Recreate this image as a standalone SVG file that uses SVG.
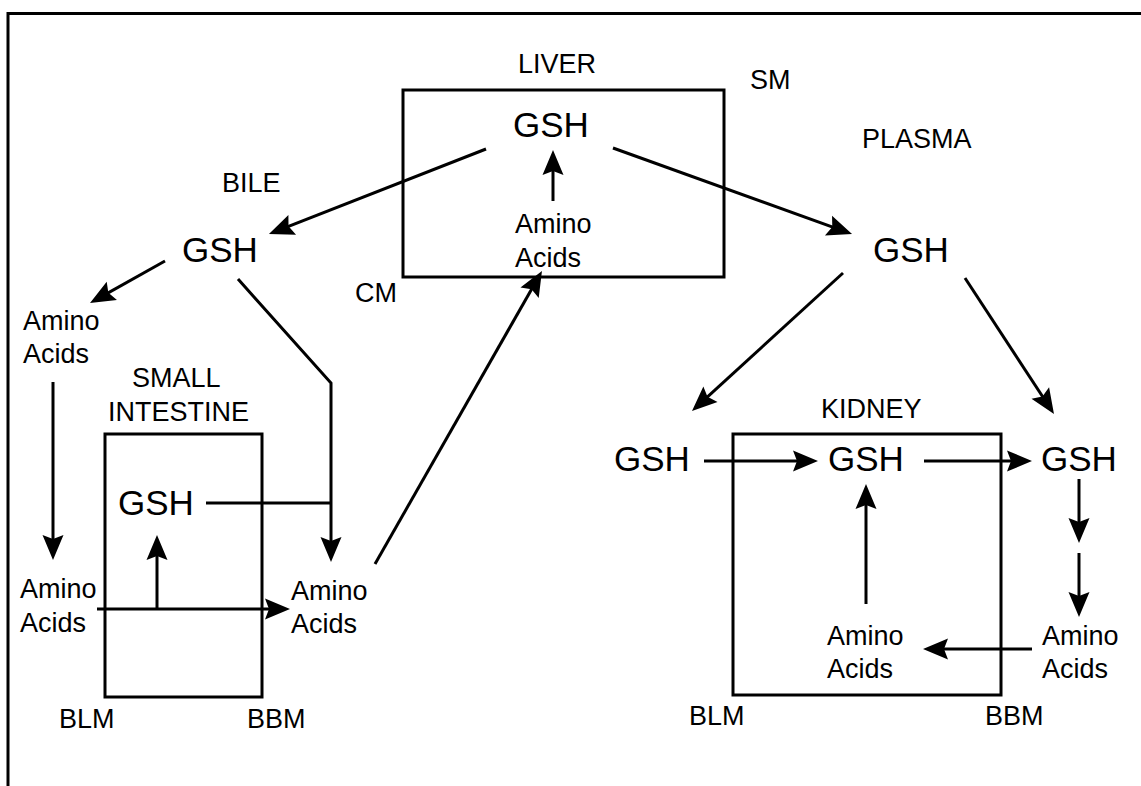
<svg xmlns="http://www.w3.org/2000/svg" width="1141" height="786" viewBox="0 0 1141 786">
<style>
text{font-family:"Liberation Sans",Arial,sans-serif;fill:#000}
.s{font-size:27px}
.g{font-size:35px}
.box{fill:none;stroke:#000;stroke-width:3}
.c{fill:none;stroke:#000;stroke-width:3;marker-end:url(#ah)}
.n{fill:none;stroke:#000;stroke-width:3}
</style>
<defs>
<marker id="ah" viewBox="-26 -12 27 24" markerWidth="27" markerHeight="24" refX="-8" refY="0" orient="auto" markerUnits="userSpaceOnUse">
<path d="M0,0 L-25,-10.5 L-21,0 L-25,10.5 Z" fill="#000"/>
</marker>
</defs>
<rect width="1141" height="786" fill="#fff"/>
<g id="frame">
<path class="n" d="M8,786 V13.5 H1141"/>
</g>
<g id="liver">
<rect class="box" x="403" y="90" width="321" height="187"/>
<text class="s" x="518" y="73">LIVER</text>
<text class="g" x="513" y="137">GSH</text>
<text class="s" x="515" y="233">Amino</text>
<text class="s" x="515" y="267">Acids</text>
</g>
<g id="labels">
<text class="s" x="750" y="89">SM</text>
<text class="s" x="862" y="148">PLASMA</text>
<text class="s" x="222" y="192">BILE</text>
<text class="s" x="355" y="302">CM</text>
</g>
<g id="bile-gsh"><text class="g" x="182" y="262">GSH</text></g>
<g id="plasma-gsh"><text class="g" x="873" y="262">GSH</text></g>
<g id="bile-amino"><text class="s" x="23" y="330">Amino</text><text class="s" x="23" y="363">Acids</text></g>
<g id="small-intestine">
<rect class="box" x="105" y="434" width="157" height="263"/>
<text class="s" x="132" y="387">SMALL</text>
<text class="s" x="108" y="421">INTESTINE</text>
<text class="g" x="118" y="515">GSH</text>
<text class="s" x="59" y="728">BLM</text>
<text class="s" x="247" y="728">BBM</text>
</g>
<g id="si-amino-left"><text class="s" x="20" y="598">Amino</text><text class="s" x="20" y="632">Acids</text></g>
<g id="si-amino-right"><text class="s" x="291" y="600">Amino</text><text class="s" x="291" y="633">Acids</text></g>
<g id="kidney">
<rect class="box" x="733" y="434" width="268" height="261"/>
<text class="s" x="821" y="418">KIDNEY</text>
<text class="g" x="828" y="471">GSH</text>
<text class="s" x="827" y="645">Amino</text>
<text class="s" x="827" y="678">Acids</text>
<text class="s" x="689" y="725">BLM</text>
<text class="s" x="985" y="725">BBM</text>
</g>
<g id="kidney-gsh-left"><text class="g" x="614" y="471">GSH</text></g>
<g id="kidney-gsh-right"><text class="g" x="1041" y="471">GSH</text></g>
<g id="kidney-amino-right"><text class="s" x="1042" y="645">Amino</text><text class="s" x="1042" y="678">Acids</text></g>
<g id="connectors">
<line class="c" x1="486" y1="149" x2="276.4" y2="231.1"/>
<line class="c" x1="613" y1="148" x2="844.5" y2="231.3"/>
<line class="c" x1="553" y1="201" x2="553" y2="158"/>
<line class="c" x1="165" y1="261" x2="97" y2="299.1"/>
<line class="c" x1="53" y1="382" x2="53" y2="552"/>
<polyline class="c" points="238,279 331,383 331,554"/>
<line class="n" x1="206" y1="503" x2="331" y2="503"/>
<line class="c" x1="97" y1="609" x2="282" y2="609"/>
<line class="c" x1="157" y1="609" x2="157" y2="543"/>
<line class="c" x1="375" y1="564" x2="538" y2="278"/>
<line class="c" x1="843" y1="273" x2="697.9" y2="405.6"/>
<line class="c" x1="965" y1="278" x2="1049.6" y2="407.3"/>
<line class="c" x1="704" y1="461" x2="810" y2="461"/>
<line class="c" x1="924" y1="461" x2="1024" y2="461"/>
<line class="c" x1="1079" y1="479" x2="1079" y2="535"/>
<line class="c" x1="1079" y1="553" x2="1079" y2="609"/>
<line class="c" x1="1032" y1="649" x2="931" y2="649"/>
<line class="c" x1="866" y1="604" x2="866" y2="492"/>
</g>
</svg>
